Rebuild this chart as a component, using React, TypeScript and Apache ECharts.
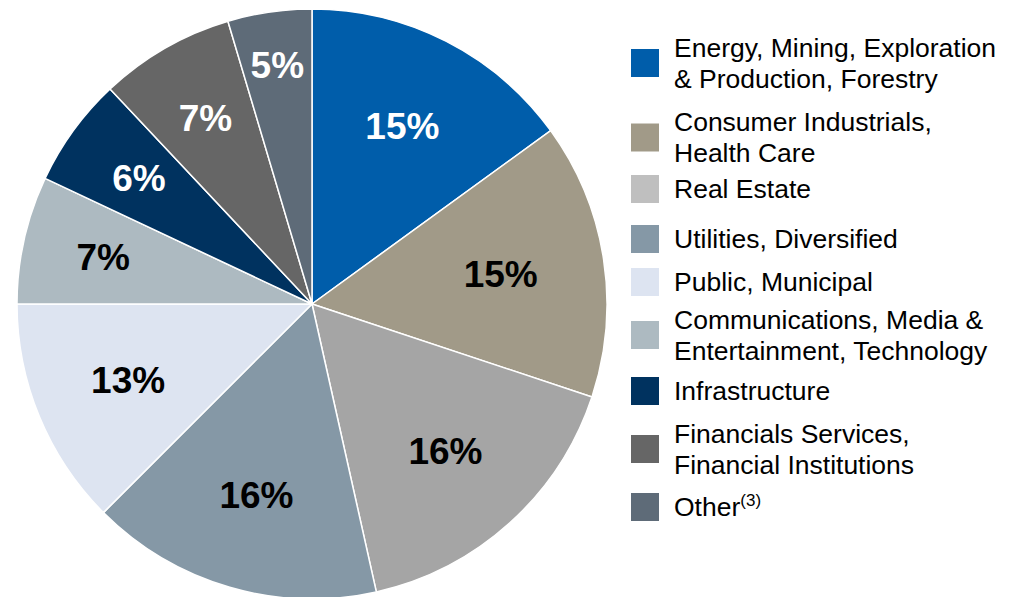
import React, { useEffect, useRef } from "react";
import * as echarts from "echarts";

// ---- data ----
const categories = [
  "Energy, Mining, Exploration\n& Production, Forestry",
  "Consumer Industrials,\nHealth Care",
  "Real Estate",
  "Utilities, Diversified",
  "Public, Municipal",
  "Communications, Media &\nEntertainment, Technology",
  "Infrastructure",
  "Financials Services,\nFinancial Institutions",
  "Other",
];
const shares = [15.0, 15.1, 16.4, 16.0, 12.5, 7.0, 6.0, 7.4, 4.6];
const legendSuffix = ["", "", "", "", "", "", "", "", "(3)"];

// ---- styles / layout ----
const sliceColors = [
  "#005DAA", "#A19A88", "#A5A5A5", "#8598A6", "#DDE4F1",
  "#ADBAC1", "#00325F", "#666666", "#5E6B78",
];
const legendColors = [
  "#005DAA", "#A19A88", "#BFBFBF", "#8598A6", "#DDE4F1",
  "#ADBAC1", "#00325F", "#666666", "#5E6B78",
];
const labelColors = [
  "#FFFFFF", "#000000", "#000000", "#000000", "#000000",
  "#000000", "#FFFFFF", "#FFFFFF", "#FFFFFF",
];
// which label ring each slice's label sits on
const labelRing = [1, 0, 1, 1, 1, 2, 2, 2, 3];
const labelRingInner = [81, 97, 127, 181];
const legendCenters = [63, 137.5, 189, 239, 282, 335, 391, 449, 507];

const FONT = "Arial, 'Liberation Sans', Helvetica, sans-serif";
const CENTER = [312, 304];
const RADIUS = 295;
const LINE_H = 31;

export default function App() {
  const ref = useRef<HTMLDivElement>(null);

  useEffect(() => {
    document.body.style.margin = "0";
    if (!ref.current) return;
    const chart = echarts.init(ref.current, null, { renderer: "svg" });

    const mainSeries = {
      type: "pie",
      center: CENTER,
      radius: [0, RADIUS],
      startAngle: 90,
      clockwise: true,
      silent: true,
      label: { show: false },
      labelLine: { show: false },
      itemStyle: { borderColor: "#FFFFFF", borderWidth: 1.5 },
      data: categories.map((name, i) => ({
        name,
        value: shares[i],
        itemStyle: { color: sliceColors[i] },
      })),
      z: 2,
    };

    const labelSeries = labelRingInner.map((inner, ring) => ({
      type: "pie",
      center: CENTER,
      radius: [inner, RADIUS],
      startAngle: 90,
      clockwise: true,
      silent: true,
      labelLine: { show: false },
      itemStyle: { color: "transparent", borderWidth: 0 },
      label: {
        position: "inside",
        fontFamily: FONT,
        fontSize: 37,
        fontWeight: "bold",
        formatter: (p: any) => Math.round(p.value) + "%",
      },
      data: categories.map((name, i) => ({
        name,
        value: shares[i],
        itemStyle: { color: "transparent" },
        label: { show: labelRing[i] === ring, color: labelColors[i] },
      })),
      z: 3,
    }));

    const legends = categories.map((name, i) => {
      const lines = name.split("\n").length;
      const half = Math.max(14, (lines * LINE_H) / 2);
      return {
        orient: "vertical",
        left: 631,
        top: legendCenters[i] - half,
        padding: 0,
        icon: "rect",
        itemWidth: 28,
        itemHeight: 28,
        selectedMode: false,
        itemStyle: { borderWidth: 0 },
        data: [{ name, itemStyle: { color: legendColors[i], borderWidth: 0 } }],
        formatter: (n: string) => {
          const idx = categories.indexOf(n);
          return legendSuffix[idx] ? n + "{sup|" + legendSuffix[idx] + "}" : n;
        },
        textStyle: {
          fontFamily: FONT,
          fontSize: 26.5,
          lineHeight: LINE_H,
          color: "#000000",
          padding: [0, 0, 0, 10],
          rich: {
            sup: {
              fontFamily: FONT,
              fontSize: 17,
              color: "#000000",
              verticalAlign: "top",
              lineHeight: LINE_H,
              padding: [0, 0, 12, 0],
            },
          },
        },
      };
    });

    chart.setOption({
      animation: false,
      backgroundColor: "#FFFFFF",
      legend: legends,
      series: [mainSeries, ...labelSeries],
    });

    return () => chart.dispose();
  }, []);

  return <div ref={ref} style={{ width: 1010, height: 597 }} />;
}
